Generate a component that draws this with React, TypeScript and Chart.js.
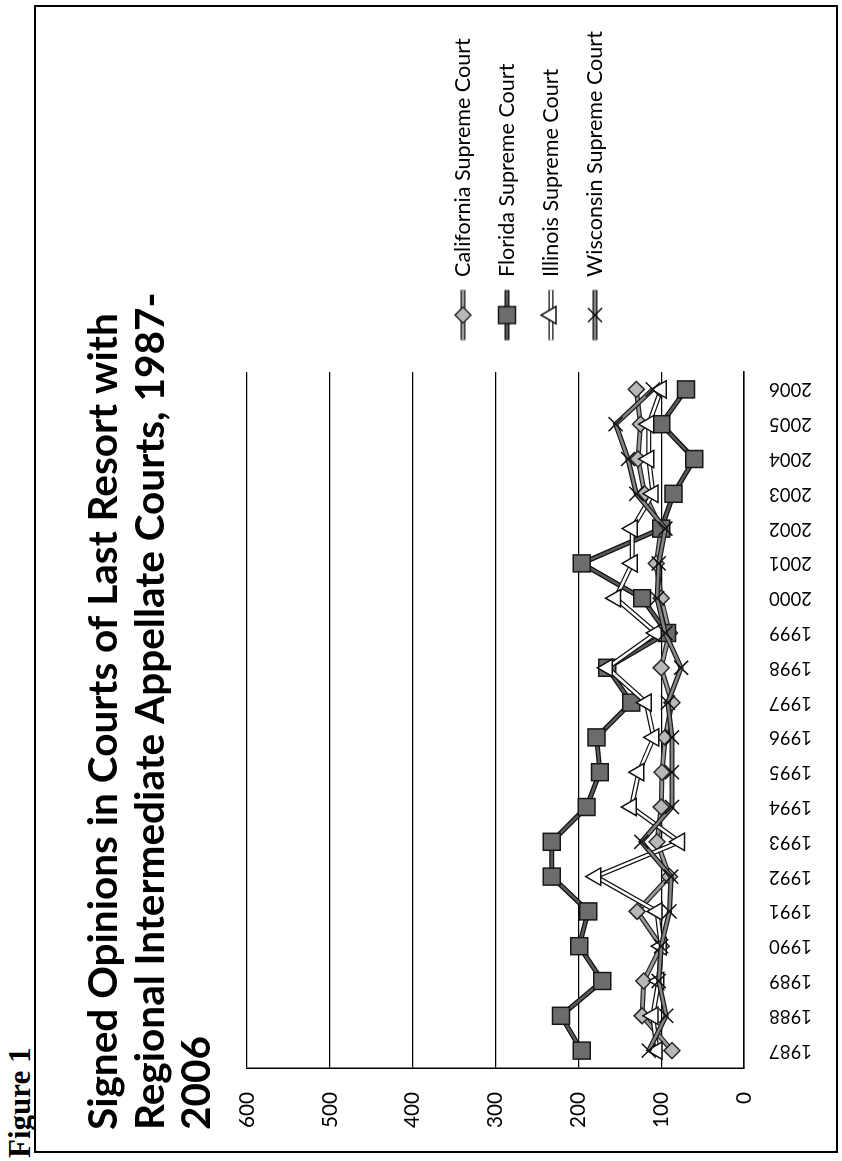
import React, { useEffect, useRef } from "react";
import { Chart, registerables } from "chart.js";

Chart.register(...registerables);

// ---------------- data ----------------
const years = [
  "1987", "1988", "1989", "1990", "1991", "1992", "1993", "1994", "1995", "1996",
  "1997", "1998", "1999", "2000", "2001", "2002", "2003", "2004", "2005", "2006",
];
const california = [87, 123, 121, 100, 129, 90, 105, 100, 99, 95, 87, 100, 90, 100, 106, 100, 120, 128, 125, 130];
const florida = [196, 221, 171, 199, 188, 232, 232, 190, 174, 178, 136, 165, 93, 123, 196, 100, 85, 60, 100, 70];
const illinois = [105, 110, 103, 100, 105, 179, 78, 136, 127, 109, 118, 165, 106, 155, 135, 135, 110, 115, 115, 100];
const wisconsin = [115, 94, 103, 100, 90, 88, 124, 87, 87, 87, 92, 76, 95, 105, 103, 95, 130, 140, 155, 110];
const seriesNames = [
  "California Supreme Court",
  "Florida Supreme Court",
  "Illinois Supreme Court",
  "Wisconsin Supreme Court",
];
const titleLines = [
  "Signed Opinions in Courts of Last Resort with",
  "Regional Intermediate Appellate Courts, 1987-",
  "2006",
];
const valueMin = 0;
const valueMax = 600;
const valueStep = 100;
const figureLabel = "Figure 1";

// ---------------- styles ----------------
type Marker = "rectRot" | "rect" | "triangle" | "crossRot";
const styles: { marker: Marker; radius: number; fill: string; stroke: string; line: string; outline: string }[] = [
  { marker: "rectRot", radius: 8, fill: "#b8b8b8", stroke: "#2a2a2a", line: "#9c9c9c", outline: "#262626" },
  { marker: "rect", radius: 12, fill: "#6c6c6c", stroke: "#161616", line: "#5a5a5a", outline: "#111111" },
  { marker: "triangle", radius: 10, fill: "#ffffff", stroke: "#111111", line: "#ffffff", outline: "#111111" },
  { marker: "crossRot", radius: 10, fill: "#ffffff", stroke: "#111111", line: "#858585", outline: "#1a1a1a" },
];
const innerWidth = 2.5;
const outlineWidth = 5;

// frame (unrotated) geometry
const W = 1148;
const H = 804;
const BORDER = 2;
const CW = W - 2 * BORDER;
const CH = H - 2 * BORDER;

function measure(text: string, font: string) {
  const g = document.createElement("canvas").getContext("2d")!;
  g.font = font;
  return g.measureText(text).width || 1;
}

function fitSize(text: string, weight: string, family: string, target: number) {
  return (100 * target) / measure(text, `${weight} 100px ${family}`);
}

function drawMarker(g: CanvasRenderingContext2D, kind: Marker, x: number, y: number, r: number) {
  g.beginPath();
  if (kind === "rectRot") {
    g.moveTo(x, y - r);
    g.lineTo(x + r, y);
    g.lineTo(x, y + r);
    g.lineTo(x - r, y);
    g.closePath();
    g.fill();
    g.stroke();
  } else if (kind === "rect") {
    const s = r * Math.SQRT1_2;
    g.rect(x - s, y - s, 2 * s, 2 * s);
    g.fill();
    g.stroke();
  } else if (kind === "triangle") {
    let a = 0;
    g.moveTo(x + Math.sin(a) * r, y - Math.cos(a) * r);
    a += (2 * Math.PI) / 3;
    g.lineTo(x + Math.sin(a) * r, y - Math.cos(a) * r);
    a += (2 * Math.PI) / 3;
    g.lineTo(x + Math.sin(a) * r, y - Math.cos(a) * r);
    g.closePath();
    g.fill();
    g.stroke();
  } else {
    const o = r * Math.SQRT1_2;
    g.moveTo(x - o, y - o);
    g.lineTo(x + o, y + o);
    g.moveTo(x + o, y - o);
    g.lineTo(x - o, y + o);
    g.stroke();
  }
}

function makeIcon(i: number, width: number, offset: number) {
  const st = styles[i];
  const c = document.createElement("canvas");
  c.width = Math.max(1, Math.round(width));
  c.height = 30;
  const g = c.getContext("2d")!;
  const y = 15;
  g.lineCap = "butt";
  g.strokeStyle = st.outline;
  g.lineWidth = outlineWidth;
  g.beginPath();
  g.moveTo(offset, y);
  g.lineTo(offset + 50, y);
  g.stroke();
  g.strokeStyle = st.line;
  g.lineWidth = innerWidth;
  g.beginPath();
  g.moveTo(offset, y);
  g.lineTo(offset + 50, y);
  g.stroke();
  g.fillStyle = st.fill;
  g.strokeStyle = st.stroke;
  g.lineWidth = 1.5;
  drawMarker(g, st.marker, offset + 25, y, st.radius);
  return c;
}

export default function App() {
  const ref = useRef<HTMLCanvasElement>(null);

  useEffect(() => {
    const canvas = ref.current;
    if (!canvas) return;

    const titleSize = fitSize(titleLines[0], "bold", "Lato", 817);
    const legendSize = fitSize(seriesNames[0], "normal", "Lato", 239);
    const yearSize = fitSize(years[0], "normal", "Lato", 43);
    const valueSize = fitSize(String(valueMax), "normal", "Lato", 36);

    // target geometry (canvas coords)
    const chartLeft = 83;
    const chartRight = 779;
    const chartTop = 211;
    const chartBottom = 708;
    const padLeft = 21;
    const padBottom = 25;
    const titleLine = 46.5;
    const titlePadTop = 68 - titleLine / 2;
    const titlePadBottom = chartTop - titlePadTop - titleLine * titleLines.length;

    const legendPad = 44 - legendSize;
    const cursorX = chartRight + legendPad;
    const iconOffset = 811 - cursorX;
    const psw = 874 - legendSize / 2 - cursorX;
    const colHeight = 4 * (legendSize + legendPad);
    const cursorY = 427 - legendSize / 2;
    const legendTitleH = 2 * cursorY - (chartTop + legendPad + chartBottom - colHeight);
    const icons = styles.map((_, i) => makeIcon(i, psw, iconOffset));

    const legendFont = `normal ${legendSize}px Lato`;
    const maxText = Math.max(...seriesNames.map((n) => measure(n, legendFont)));
    const legendWidth = legendPad + psw + legendSize / 2 + maxText + 10;
    const padRight = Math.max(0, CW - chartRight - legendWidth);

    const series = [california, florida, illinois, wisconsin];
    const datasets: any[] = [];
    series.forEach((data, i) => {
      const st = styles[i];
      datasets.push({
        label: seriesNames[i],
        data,
        borderColor: st.line,
        borderWidth: innerWidth,
        pointStyle: st.marker,
        pointRadius: st.radius,
        pointBackgroundColor: st.fill,
        pointBorderColor: st.stroke,
        pointBorderWidth: 1.5,
        tension: 0,
        fill: false,
        order: (3 - i) * 2,
      });
      datasets.push({
        label: seriesNames[i] + " outline",
        data,
        borderColor: st.outline,
        borderWidth: outlineWidth,
        pointRadius: 0,
        tension: 0,
        fill: false,
        order: (3 - i) * 2 + 1,
      });
    });

    const chart = new Chart(canvas, {
      type: "line",
      data: { labels: years, datasets },
      options: {
        responsive: false,
        animation: false,
        devicePixelRatio: 1,
        events: [],
        layout: { padding: { left: padLeft, right: padRight, top: 0, bottom: padBottom } },
        plugins: {
          tooltip: { enabled: false },
          title: {
            display: true,
            text: titleLines,
            align: "start",
            color: "#000",
            font: { family: "Lato", size: titleSize, weight: "bold", lineHeight: `${titleLine}px` },
            padding: { top: titlePadTop, bottom: titlePadBottom },
          },
          legend: {
            display: true,
            position: "right",
            align: "center",
            fullSize: false,
            maxWidth: 2000,
            title: {
              display: true,
              text: " ",
              font: { size: 1, lineHeight: 1 },
              padding: { top: Math.max(0, legendTitleH - 1), bottom: 0 },
            },
            labels: {
              usePointStyle: true,
              pointStyleWidth: psw,
              boxHeight: legendSize,
              padding: legendPad,
              color: "#000",
              font: { family: "Lato", size: legendSize },
              generateLabels: () =>
                seriesNames.map((n, i) => ({
                  text: n,
                  pointStyle: icons[i] as any,
                  datasetIndex: i * 2,
                  hidden: false,
                  lineWidth: 0,
                  fillStyle: "#fff",
                  strokeStyle: "#fff",
                  fontColor: "#000",
                })),
            },
          },
        },
        scales: {
          x: {
            type: "category",
            offset: true,
            grid: { display: false, drawTicks: false },
            border: { display: true, color: "#000", width: 1.5 },
            ticks: {
              autoSkip: false,
              minRotation: 90,
              maxRotation: 90,
              padding: 25,
              color: "#000",
              font: { family: "Lato", size: yearSize },
            },
            afterFit: (s: any) => {
              s.height = CH - padBottom - chartBottom;
            },
          },
          y: {
            min: valueMin,
            max: valueMax,
            ticks: {
              stepSize: valueStep,
              padding: 24,
              color: "#000",
              font: { family: "Lato", size: valueSize },
            },
            grid: { color: "#000", lineWidth: 1.2, drawTicks: false },
            border: { display: true, color: "#000", width: 1.5 },
            afterFit: (s: any) => {
              s.width = chartLeft - padLeft;
            },
          },
        },
      } as any,
    });
    return () => chart.destroy();
  }, []);

  return (
    <div
      style={{
        position: "absolute",
        left: 34,
        top: 1153,
        width: W,
        height: H,
        transformOrigin: "0 0",
        transform: "rotate(-90deg)",
      }}
    >
      <div
        style={{
          position: "absolute",
          left: -5,
          top: -30,
          fontFamily: "'Liberation Serif', serif",
          fontWeight: "bold",
          fontSize: 31,
          lineHeight: "31px",
          whiteSpace: "nowrap",
          color: "#000",
        }}
      >
        {figureLabel}
      </div>
      <div
        style={{
          position: "absolute",
          left: 0,
          top: 0,
          width: W,
          height: H,
          boxSizing: "border-box",
          border: `${BORDER}px solid #000`,
          background: "#fff",
        }}
      >
        <canvas ref={ref} width={CW} height={CH} style={{ display: "block", width: CW, height: CH }} />
      </div>
    </div>
  );
}
